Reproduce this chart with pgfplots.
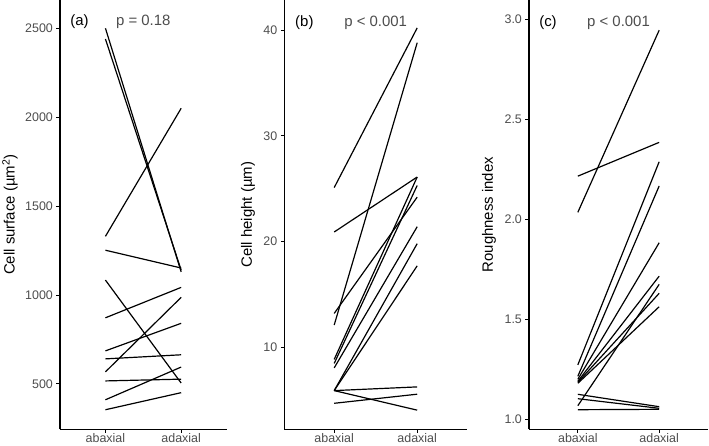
\documentclass[border=0pt]{standalone}
\usepackage{fontspec}
\setmainfont{Liberation Sans}
\usepackage{pgfplots}
\pgfplotsset{compat=1.18}
\definecolor{gray30}{HTML}{4D4D4D}
\pgfplotsset{
  pan/.style={
    scale only axis, anchor=south west,
    axis x line*=bottom, axis y line*=left,
    axis line style={black, line width=1.2pt},
    xmin=0.4, xmax=2.6, xtick={1,2}, xticklabels={abaxial,adaxial},
    tick align=outside, major tick length=3.6pt,
    every tick/.style={black, line width=1.0pt},
    tick label style={font=\fontsize{12.5}{14}\selectfont, text=gray30},
    xticklabel style={yshift=3bp},
    /pgf/number format/assume math mode=true,
    /pgf/number format/1000 sep={},
    label style={font=\fontsize{15}{17}\selectfont},
    clip=false,
    height=429.3bp,
  },
  ln/.style={black, line width=1.2pt, no markers},
}
\begin{document}
\begin{tikzpicture}
\useasboundingbox (0,0) rectangle (709bp,446bp);
% ---------------- (a)
\begin{axis}[pan, at={(60bp,16.7bp)}, width=166.6bp,
  ymin=245, ymax=2659, ytick={500,1000,1500,2000,2500},
  ylabel={Cell surface (µm\textsuperscript{2})},
  ylabel style={at={(axis description cs:-0.30,0.5)}, anchor=center}]
\addplot[ln] coordinates {(1,2500) (2,1130)};
\addplot[ln] coordinates {(1,2440) (2,1140)};
\addplot[ln] coordinates {(1,1330) (2,2050)};
\addplot[ln] coordinates {(1,1252) (2,1152)};
\addplot[ln] coordinates {(1,1084) (2,505)};
\addplot[ln] coordinates {(1,872) (2,1043)};
\addplot[ln] coordinates {(1,686) (2,841)};
\addplot[ln] coordinates {(1,641) (2,664)};
\addplot[ln] coordinates {(1,568) (2,987)};
\addplot[ln] coordinates {(1,517) (2,527)};
\addplot[ln] coordinates {(1,411) (2,595)};
\addplot[ln] coordinates {(1,355) (2,451)};
\node[anchor=base west, font=\fontsize{15}{17}\selectfont] at (axis cs:0.49,2513) {(a)};
\node[anchor=base, font=\fontsize{15}{17}\selectfont, text=gray30] at (axis cs:1.5,2513) {p = 0.18};
\end{axis}
% ---------------- (b)
\begin{axis}[pan, at={(284.4bp,16.7bp)}, width=182.6bp,
  ymin=2.24, ymax=42.84, ytick={10,20,30,40},
  ylabel={Cell height (µm)},
  ylabel style={at={(axis description cs:-0.199,0.5)}, anchor=center}]
\addplot[ln] coordinates {(1,25.1) (2,40.2)};
\addplot[ln] coordinates {(1,20.9) (2,26.1)};
\addplot[ln] coordinates {(1,13.2) (2,24.2)};
\addplot[ln] coordinates {(1,12.1) (2,38.8)};
\addplot[ln] coordinates {(1,8.85) (2,26.1)};
\addplot[ln] coordinates {(1,8.47) (2,25.3)};
\addplot[ln] coordinates {(1,8.05) (2,21.4)};
\addplot[ln] coordinates {(1,5.9) (2,19.8)};
\addplot[ln] coordinates {(1,5.9) (2,17.7)};
\addplot[ln] coordinates {(1,5.9) (2,6.25)};
\addplot[ln] coordinates {(1,5.9) (2,4.05)};
\addplot[ln] coordinates {(1,4.7) (2,5.56)};
\node[anchor=base west, font=\fontsize{15}{17}\selectfont] at (axis cs:0.488,40.38) {(b)};
\node[anchor=base, font=\fontsize{15}{17}\selectfont, text=gray30] at (axis cs:1.5,40.38) {p < 0.001};
\end{axis}
% ---------------- (c)
\begin{axis}[pan, at={(529bp,16.7bp)}, width=179bp,
  ymin=0.95, ymax=3.097, ytick={1,1.5,2,2.5,3},
  yticklabel style={/pgf/number format/.cd, fixed, fixed zerofill, precision=1},
  ylabel={Roughness index},
  ylabel style={at={(axis description cs:-0.223,0.5)}, anchor=center}]
\addplot[ln] coordinates {(1,2.035) (2,2.946)};
\addplot[ln] coordinates {(1,2.216) (2,2.385)};
\addplot[ln] coordinates {(1,1.272) (2,2.288)};
\addplot[ln] coordinates {(1,1.215) (2,2.167)};
\addplot[ln] coordinates {(1,1.200) (2,1.883)};
\addplot[ln] coordinates {(1,1.190) (2,1.716)};
\addplot[ln] coordinates {(1,1.185) (2,1.630)};
\addplot[ln] coordinates {(1,1.180) (2,1.563)};
\addplot[ln] coordinates {(1,1.068) (2,1.675)};
\addplot[ln] coordinates {(1,1.125) (2,1.063)};
\addplot[ln] coordinates {(1,1.103) (2,1.055)};
\addplot[ln] coordinates {(1,1.048) (2,1.050)};
\node[anchor=base west, font=\fontsize{15}{17}\selectfont] at (axis cs:0.483,2.9665) {(c)};
\node[anchor=base, font=\fontsize{15}{17}\selectfont, text=gray30] at (axis cs:1.5,2.9665) {p < 0.001};
\end{axis}
\end{tikzpicture}
\end{document}
